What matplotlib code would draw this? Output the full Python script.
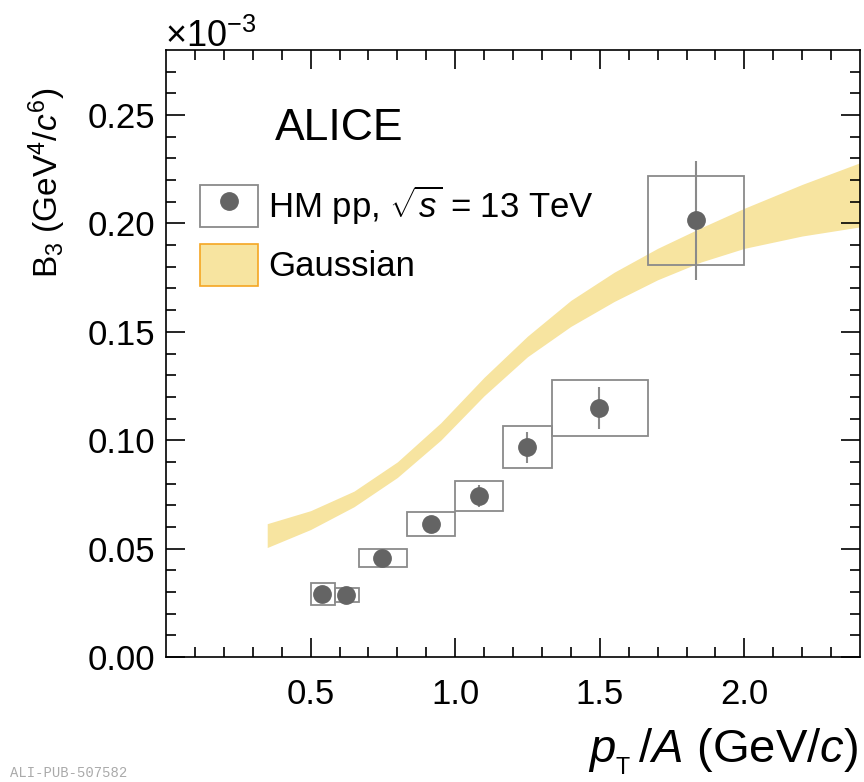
'''
    B3 coalescence parameter vs pT/A, HM pp 13 TeV, with Gaussian band
'''
import numpy as np
import matplotlib
matplotlib.use('Agg')
import matplotlib.pyplot as plt
from matplotlib.patches import Rectangle
from matplotlib.lines import Line2D
from matplotlib.legend_handler import HandlerTuple

plt.rcParams['font.family'] = ['Liberation Sans', 'DejaVu Sans']
plt.rcParams['mathtext.fontset'] = 'custom'
plt.rcParams['mathtext.rm'] = 'Liberation Sans'
plt.rcParams['mathtext.it'] = 'Liberation Sans:italic'

# data (B3 in units of 1e-3 GeV^4/c^6)
bin_edges = [0.5, 0.5833, 0.6667, 0.8333, 1.0, 1.1667, 1.3333, 1.6667, 2.0]
pt_a = [0.541, 0.624, 0.748, 0.917, 1.083, 1.250, 1.499, 1.834]
b3 = [0.0291, 0.0286, 0.0458, 0.0615, 0.0742, 0.0968, 0.1149, 0.2015]
b3_stat = [0.002, 0.002, 0.002, 0.003, 0.005, 0.0071, 0.0095, 0.0275]
b3_sys = [0.0051, 0.003, 0.0042, 0.0055, 0.007, 0.0097, 0.0129, 0.0205]

# Gaussian model band
band_x = [0.35, 0.5, 0.65, 0.8, 0.95, 1.1, 1.25, 1.4, 1.55, 1.7, 1.85, 2.0, 2.2, 2.4]
band_hi = [0.0615, 0.0675, 0.0765, 0.090, 0.108, 0.129, 0.148, 0.1645, 0.1775,
           0.1885, 0.198, 0.207, 0.218, 0.228]
band_lo = [0.0505, 0.0588, 0.0693, 0.0828, 0.100, 0.1205, 0.1385, 0.1525, 0.164,
           0.174, 0.1822, 0.1885, 0.1942, 0.1984]

band_col = '#f7e4a0'
pt_col = '#646464'
box_col = '#8a8a8a'

fig = plt.figure(figsize=(8.64, 7.82), dpi=100)
ax = fig.add_axes([166/864, 1-657/782, 694/864, 607/782])

ax.fill_between(band_x, band_lo, band_hi, color=band_col, lw=0, zorder=1)

for i in range(len(pt_a)):
    lo, hi = bin_edges[i], bin_edges[i+1]
    ax.add_patch(Rectangle((lo, b3[i]-b3_sys[i]), hi-lo, 2*b3_sys[i],
                           fill=False, ec=box_col, lw=1.3, zorder=2))
ax.errorbar(pt_a, b3, yerr=b3_stat, fmt='o', color=pt_col, ms=12.5,
            ecolor=box_col, elinewidth=1.5, capsize=0, zorder=3)

ax.set_xlim(0, 2.4)
ax.set_ylim(0, 0.28)
ax.set_xticks([0.5, 1.0, 1.5, 2.0])
ax.set_xticklabels(['0.5', '1.0', '1.5', '2.0'])
ax.set_xticks(np.arange(0.1, 2.4, 0.1), minor=True)
ax.set_yticks([0.0, 0.05, 0.10, 0.15, 0.20, 0.25])
ax.set_yticklabels(['0.00', '0.05', '0.10', '0.15', '0.20', '0.25'])
ax.set_yticks(np.arange(0.01, 0.28, 0.01), minor=True)
ax.tick_params(which='both', direction='in', top=True, right=True,
               labelsize=25, width=1.2)
ax.tick_params(axis='x', which='major', length=14, pad=15)
ax.tick_params(axis='y', which='major', length=14, pad=8)
ax.tick_params(which='minor', length=7)
for s in ax.spines.values():
    s.set_linewidth(1.2)

ax.text(0.157, 0.871, 'ALICE', transform=ax.transAxes, fontsize=32,
        va='center', ha='left')

h_data = (Rectangle((0, 0), 1, 1, fill=False, ec=box_col, lw=1.3),
          Line2D([], [], marker='o', color=pt_col, ls='none', ms=12.5))
h_band = Rectangle((0, 0), 1, 1, fc=band_col, ec='#f5a623', lw=1.2)
ax.legend([h_data, h_band], [r'HM pp, $\sqrt{s}$ = 13 TeV', 'Gaussian'],
          handler_map={tuple: HandlerTuple(ndivide=1, pad=0)},
          loc='upper left', bbox_to_anchor=(0.049, 0.78), frameon=False,
          fontsize=25, borderpad=0, borderaxespad=0, handlelength=1.66,
          handleheight=1.5, labelspacing=0.47, handletextpad=0.3)

fig.text(165/864, 1-47/782, r'$\times$10$^{-3}$', fontsize=26,
         ha='left', va='baseline')
fig.text(47/864, 1-88/782, r'B$_3$ (GeV$^4$/$c^6$)', fontsize=24,
         rotation=90, ha='center', va='top')
fig.text(858/864, 1-762/782, r'$p_{_{\mathrm{T}}}\,/A$ (GeV/$c$)', fontsize=34,
         ha='right', va='baseline')
fig.text(10/864, 2/782, 'ALI-PUB-507582', fontsize=10, color='#aaaaaa',
         family='Liberation Mono', ha='left', va='bottom')

fig.savefig('out.png', dpi=100)
